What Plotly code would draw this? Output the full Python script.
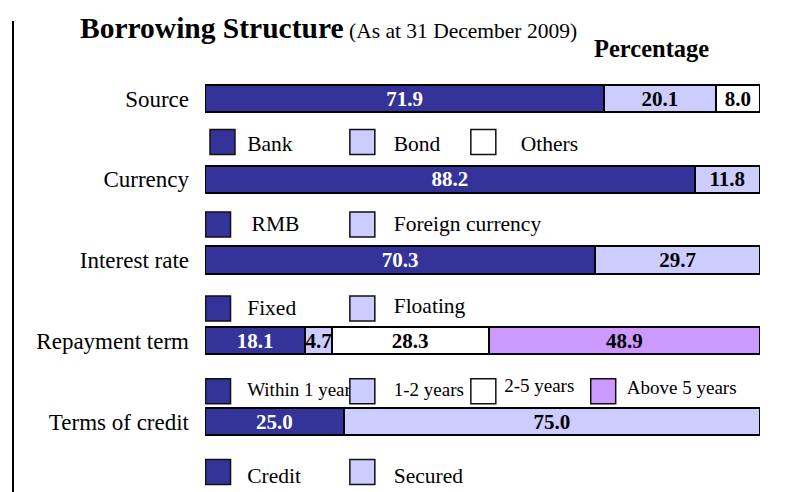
import plotly.graph_objects as go

# ---------------- data ----------------
rows = ["Source", "Currency", "Interest rate", "Repayment term", "Terms of credit"]

source_labels = ["Bank", "Bond", "Others"]
source_values = [71.9, 20.1, 8.0]
currency_labels = ["RMB", "Foreign currency"]
currency_values = [88.2, 11.8]
interest_labels = ["Fixed", "Floating"]
interest_values = [70.3, 29.7]
repayment_labels = ["Within 1 year", "1-2 years", "2-5 years", "Above 5 years"]
repayment_values = [18.1, 4.7, 28.3, 48.9]
credit_labels = ["Credit", "Secured"]
credit_values = [25.0, 75.0]

all_labels = [source_labels, currency_labels, interest_labels, repayment_labels, credit_labels]
all_values = [source_values, currency_values, interest_values, repayment_values, credit_values]

# ---------------- styles / layout helpers ----------------
FONT = "Liberation Serif"
segment_colors = ["#333399", "#CCCCFF", "#FFFFFF", "#CC99FF"]
segment_text_colors = ["white", "black", "black", "black"]

W, H = 790, 492
PAGE_OFF = 8  # page body margin: figure is drawn 8px right/down in the window
ML = 205 - PAGE_OFF
MR = W - (760 - PAGE_OFF)
PX_PER_ROW = 80.75
ROW0_PX = 98.5 - PAGE_OFF
y_top = -ROW0_PX / PX_PER_ROW
y_bot = len(rows) - 1 + (H - (ROW0_PX + (len(rows) - 1) * PX_PER_ROW)) / PX_PER_ROW
pw = W - ML - MR


def px_x(p):
    return (p - PAGE_OFF - ML) / pw


def px_y(p):
    return 1 - (p - PAGE_OFF) / H


# legend placement (layout, per row)
sq_x = [[0.9, 26.1, 47.9], [0.1, 26.1], [0.1, 26.1], [0.1, 26.1, 47.9, 69.5], [0.1, 26.1]]
txt_x = [[7.6, 34.0, 56.9], [8.4, 34.0], [7.6, 34.0], [7.6, 34.0, 53.9, 76.0], [7.6, 34.0]]
sq_off = [0.54, 0.56, 0.60, 0.625, 0.625]
txt_off = [[0.58, 0.58, 0.58], [0.58, 0.58], [0.61, 0.585], [0.63, 0.63, 0.57, 0.60], [0.70, 0.70]]
legend_font = [21.5, 21.5, 21.5, 19, 21.5]
SQ_W = 4.5
SQ_H = 0.31

fig = go.Figure()

# stacked bars
nseg = max(len(v) for v in all_values)
for k in range(nseg):
    ys = [i for i, v in enumerate(all_values) if len(v) > k]
    xs = [all_values[i][k] for i in ys]
    fig.add_trace(go.Bar(
        orientation="h",
        y=ys,
        x=xs,
        width=0.335,
        marker=dict(color=segment_colors[k], line=dict(color="black", width=2)),
        text=[f"{x:.1f}" for x in xs],
        textposition="inside",
        insidetextanchor="middle",
        textangle=0,
        constraintext="none",
        textfont=dict(family=FONT, size=21, color=segment_text_colors[k], weight="bold"),
        hoverinfo="skip",
        showlegend=False,
    ))

# legend texts (as scatter text so squares can overlap them)
for i, labs in enumerate(all_labels):
    fig.add_trace(go.Scatter(
        x=txt_x[i][:len(labs)],
        y=[i + o for o in txt_off[i][:len(labs)]],
        text=labs,
        mode="text",
        textposition="middle right",
        textfont=dict(family=FONT, size=legend_font[i], color="black"),
        hoverinfo="skip",
        showlegend=False,
        cliponaxis=False,
    ))

shapes = []
for i, labs in enumerate(all_labels):
    for k in range(len(labs)):
        yc = i + sq_off[i]
        shapes.append(dict(
            type="rect", xref="x", yref="y",
            x0=sq_x[i][k], x1=sq_x[i][k] + SQ_W,
            y0=yc - SQ_H / 2, y1=yc + SQ_H / 2,
            fillcolor=segment_colors[k],
            line=dict(color="#111111", width=1.5),
            layer="above",
        ))

# left vertical rule
shapes.append(dict(type="line", xref="paper", yref="paper",
                   x0=px_x(13), x1=px_x(13),
                   y0=0, y1=px_y(21),
                   line=dict(color="black", width=2)))

annotations = [
    dict(text="<b>Borrowing Structure</b>", xref="paper", yref="paper",
         x=px_x(78), y=px_y(38 - 0.34 * 29.5), xanchor="left", yanchor="middle",
         showarrow=False, font=dict(family=FONT, size=29.5, color="black")),
    dict(text="(As at 31 December 2009)", xref="paper", yref="paper",
         x=px_x(347), y=px_y(38 - 0.34 * 21.5), xanchor="left", yanchor="middle",
         showarrow=False, font=dict(family=FONT, size=21.5, color="black")),
    dict(text="<b>Percentage</b>", xref="paper", yref="paper",
         x=px_x(592), y=px_y(57 - 0.34 * 24.5), xanchor="left", yanchor="middle",
         showarrow=False, font=dict(family=FONT, size=24.5, color="black")),
]

fig.update_layout(
    width=W, height=H,
    margin=dict(l=ML, r=MR, t=0, b=0),
    paper_bgcolor="white", plot_bgcolor="white",
    barmode="stack",
    shapes=shapes,
    annotations=annotations,
    showlegend=False,
    xaxis=dict(range=[0, 100], visible=False, fixedrange=True),
    yaxis=dict(
        range=[y_bot, y_top],
        tickvals=list(range(len(rows))),
        ticktext=rows,
        tickfont=dict(family=FONT, size=23, color="black"),
        showgrid=False, zeroline=False, showline=False,
        ticks="", ticklabelstandoff=15,
        automargin=False, fixedrange=True,
    ),
)

fig.write_html("out.html")
